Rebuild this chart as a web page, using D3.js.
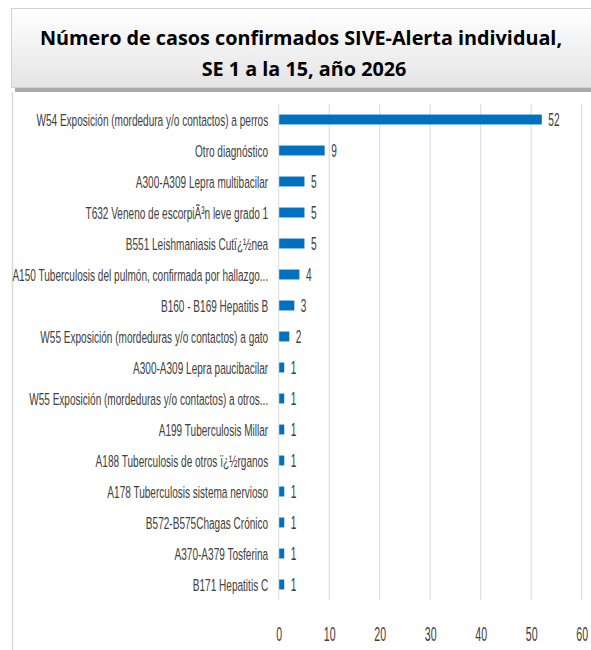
<!DOCTYPE html>
<html>
<head>
<meta charset="utf-8">
<script src="https://cdn.jsdelivr.net/npm/d3@7"></script>
<style>
  body { margin: 0; background: #fff; }
  svg { display: block; }
</style>
</head>
<body>
<div id="chart"></div>
<script>
// categories, top to bottom
const categories = [
    "W54 Exposición (mordedura y/o contactos) a perros",
    "Otro diagnóstico",
    "A300-A309 Lepra multibacilar",
    "T632 Veneno de escorpiÃ³n leve grado 1",
    "B551 Leishmaniasis Cutï¿½nea",
    "A150 Tuberculosis del pulmón, confirmada por hallazgo...",
    "B160 - B169 Hepatitis B",
    "W55 Exposición (mordeduras y/o contactos) a gato",
    "A300-A309 Lepra paucibacilar",
    "W55 Exposición (mordeduras y/o contactos) a otros...",
    "A199 Tuberculosis Millar",
    "A188 Tuberculosis de otros ï¿½rganos",
    "A178 Tuberculosis sistema nervioso",
    "B572-B575Chagas Crónico",
    "A370-A379 Tosferina",
    "B171 Hepatitis C"
];
const casos = [52, 9, 5, 5, 5, 4, 3, 2, 1, 1, 1, 1, 1, 1, 1, 1];
const xTicks = [0, 10, 20, 30, 40, 50, 60];

const width = 591, height = 650;
const margin = { top: 104, right: 9, bottom: 50, left: 278.7 };
const innerWidth = width - margin.left - margin.right;
const innerHeight = height - margin.top - margin.bottom;

const data = categories.map((c, i) => ({ cat: c, val: casos[i] }));

const svg = d3.select("#chart")
    .append("svg")
    .attr("width", width)
    .attr("height", height);

// title box with gradient + shadow
const defs = svg.append("defs");
const grad = defs.append("linearGradient")
    .attr("id", "titleGrad")
    .attr("x1", 0).attr("y1", 0).attr("x2", 0).attr("y2", 1);
grad.append("stop").attr("offset", "0%").attr("stop-color", "#ffffff");
grad.append("stop").attr("offset", "100%").attr("stop-color", "#e4e4e4");

svg.append("rect")
    .attr("x", 15).attr("y", 12)
    .attr("width", 590).attr("height", 80)
    .attr("fill", "#a9a9a9");

svg.append("rect")
    .attr("x", 11.5).attr("y", 8.5)
    .attr("width", 590).attr("height", 79)
    .attr("fill", "url(#titleGrad)")
    .attr("stroke", "#d4d4d4")
    .attr("stroke-width", 1);

const title = svg.append("text")
    .attr("text-anchor", "middle")
    .style("font-family", "'Open Sans', 'Liberation Sans', sans-serif")
    .style("font-weight", "bold")
    .style("font-size", "19.8px")
    .style("fill", "#000");
title.append("tspan").attr("x", 301).attr("y", 45)
    .text("Número de casos confirmados SIVE-Alerta individual,");
title.append("tspan").attr("x", 304).attr("y", 76)
    .text("SE 1 a la 15, año 2026");

// left border of the chart frame
svg.append("line")
    .attr("x1", 12.5).attr("x2", 12.5)
    .attr("y1", 92).attr("y2", height)
    .attr("stroke", "#d9d9d9")
    .attr("stroke-width", 1.5);

const innerChart = svg.append("g")
    .attr("transform", `translate(${margin.left}, ${margin.top})`);

const xScale = d3.scaleLinear()
    .domain([0, 60])
    .range([0, 303]);

const yScale = d3.scaleBand()
    .domain(categories)
    .range([0, innerHeight])
    .paddingInner(0.68)
    .paddingOuter(0.34);

// gridlines
innerChart.selectAll(".grid")
    .data(xTicks)
    .join("line")
    .attr("class", "grid")
    .attr("x1", d => xScale(d))
    .attr("x2", d => xScale(d))
    .attr("y1", 0)
    .attr("y2", innerHeight)
    .attr("stroke", "#d9d9d9")
    .attr("stroke-width", 1);

// bars
innerChart.selectAll("rect.bar")
    .data(data)
    .join("rect")
    .attr("class", "bar")
    .attr("x", xScale(0) + 0.5)
    .attr("y", d => yScale(d.cat))
    .attr("width", d => xScale(d.val) - xScale(0))
    .attr("height", yScale.bandwidth())
    .attr("fill", "#0070c0");

// narrow squeezed font like the original (Calibri, stretched)
const labelFont = "'Liberation Sans', Arial, sans-serif";

// value labels: each in its own squeezed group
innerChart.selectAll(".val-label")
    .data(data)
    .join("g")
    .attr("class", "val-label")
    .attr("transform", d => `translate(${xScale(d.val) + 7}, ${yScale(d.cat) + yScale.bandwidth() / 2}) scale(0.56,1)`)
    .append("text")
    .attr("dy", "0.36em")
    .style("font-family", labelFont)
    .style("font-size", "18px")
    .style("fill", "#404040")
    .text(d => d.val);

// y axis labels (drawn by the axis, then moved into squeezed groups)
const yAxis = innerChart.append("g")
    .attr("class", "y-axis")
    .call(d3.axisLeft(yScale).tickSize(0));
yAxis.select(".domain").remove();
const yLabels = yAxis.selectAll("text")
    .attr("x", 0)
    .attr("dy", "0.36em")
    .style("font-family", labelFont)
    .style("font-size", "17px")
    .style("fill", "#404040");

// fit the first (longest) label to the original width
const labelScale = 232 / yLabels.node().getComputedTextLength();
yAxis.selectAll(".tick").each(function () {
    const tick = d3.select(this);
    const txt = tick.select("text").remove();
    tick.append("g")
        .attr("transform", `translate(-10.5,0) scale(${labelScale},1)`)
        .append(() => txt.node());
});

// x axis
const xAxis = innerChart.append("g")
    .attr("class", "x-axis")
    .attr("transform", `translate(0, ${innerHeight})`)
    .call(d3.axisBottom(xScale).tickValues(xTicks).tickSize(0));
xAxis.select(".domain").remove();
xAxis.selectAll(".tick").each(function () {
    const tick = d3.select(this);
    const txt = tick.select("text").remove()
        .attr("y", 0)
        .attr("dy", null)
        .style("font-family", labelFont)
        .style("font-size", "20px")
        .style("fill", "#404040");
    tick.append("g")
        .attr("transform", "translate(0, 40.5) scale(0.53,1)")
        .append(() => txt.node());
});
</script>
</body>
</html>
